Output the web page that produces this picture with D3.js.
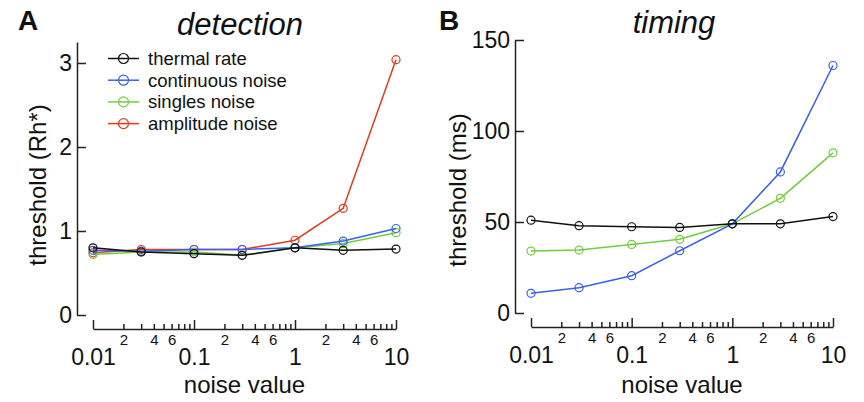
<!DOCTYPE html>
<html>
<head>
<meta charset="utf-8">
<script src="https://cdn.jsdelivr.net/npm/d3@7"></script>
<style>
  body { margin: 0; background: #fff; }
  svg { font-family: "Liberation Sans", Arial, sans-serif; }
</style>
</head>
<body>
<div class="viz"></div>
<script>
// noise values (x) shared by both panels
var noise = [0.01, 0.03, 0.1, 0.3, 1, 3, 10];

// panel A: detection threshold (Rh*)
var detThermal = [0.80, 0.75, 0.73, 0.71, 0.80, 0.77, 0.785];
var detContinuous = [0.77, 0.76, 0.78, 0.78, 0.80, 0.88, 1.03];
var detSingles = [0.72, 0.75, 0.75, 0.71, 0.80, 0.85, 0.98];
var detAmplitude = [0.74, 0.78, 0.78, 0.78, 0.89, 1.27, 3.04];

// panel B: timing threshold (ms)
var timThermal = [51, 48, 47.4, 47, 49, 49, 53];
var timContinuous = [10.8, 13.9, 20.5, 34.2, 49, 77.5, 136];
var timSingles = [34, 34.6, 37.7, 40.5, 49, 63, 88];

var seriesNames = ["thermal rate", "continuous noise", "singles noise", "amplitude noise"];
var colors = ["#111111", "#3a5ff2", "#6fcf3b", "#e6391c"];

var yTicksA = [0, 1, 2, 3];
var yTicksB = [0, 50, 100, 150];
var majorTicks = [0.01, 0.1, 1, 10];
var minorDigits = [2, 3, 4, 5, 6, 7, 8, 9];
var labelledMinor = [2, 4, 6];

var w = 864, h = 402;

var svg = d3.select(".viz")
    .append("svg")
    .attr("width", w)
    .attr("height", h);

function panel(opt) {
    var x = d3.scaleLog().domain([0.01, 10]).range(opt.xr);
    var y = d3.scaleLinear().domain(opt.yd).range(opt.yr);

    // minor tick values
    var minor = [];
    [0.01, 0.1, 1].forEach(function(dec) {
        minorDigits.forEach(function(m) { minor.push(dec * m); });
    });

    // x axis, major ticks
    var gx = svg.append("g")
        .attr("transform", "translate(0," + opt.xAxisY + ")")
        .call(d3.axisBottom(x)
            .tickValues(majorTicks)
            .tickSizeInner(-9)
            .tickSizeOuter(0)
            .tickPadding(20)
            .tickFormat(function(d) { return d3.format("~g")(d); }));
    gx.selectAll("text").attr("font-size", "23px").attr("fill", "#111").attr("font-family", null);

    // x axis, minor ticks
    var gm = svg.append("g")
        .attr("transform", "translate(0," + opt.xAxisY + ")")
        .call(d3.axisBottom(x)
            .tickValues(minor)
            .tickSizeInner(-5)
            .tickSizeOuter(0)
            .tickPadding(5)
            .tickFormat(function(d) {
                var m = Math.round(d / Math.pow(10, Math.floor(Math.log10(d) + 1e-9)));
                return labelledMinor.indexOf(m) >= 0 ? m : "";
            }));
    gm.select(".domain").remove();
    gm.selectAll("text").attr("font-size", "15px").attr("fill", "#111").attr("font-family", null);

    // y axis
    var gy = svg.append("g")
        .attr("transform", "translate(" + opt.yAxisX + ",0)")
        .call(d3.axisLeft(y)
            .tickValues(opt.yTicks)
            .tickSizeInner(-9)
            .tickSizeOuter(0)
            .tickPadding(5)
            .tickFormat(d3.format("d")));
    gy.selectAll("text").attr("font-size", "23px").attr("fill", "#111").attr("font-family", null);

    svg.selectAll(".domain, .tick line")
        .attr("stroke", "#222")
        .attr("stroke-width", 1.5);

    // axis labels
    svg.append("text")
        .attr("x", (opt.xr[0] + opt.xr[1]) / 2)
        .attr("y", 393)
        .attr("text-anchor", "middle")
        .attr("font-size", "24px")
        .attr("fill", "#111")
        .text("noise value");

    svg.append("text")
        .attr("transform", "translate(" + opt.yLabelX + "," + opt.yLabelY + ") rotate(-90)")
        .attr("text-anchor", "middle")
        .attr("dominant-baseline", "central")
        .attr("font-size", "24px")
        .attr("fill", "#111")
        .text(opt.yLabel);

    // title and panel letter
    svg.append("text")
        .attr("x", opt.titleX)
        .attr("y", opt.titleY)
        .attr("text-anchor", "middle")
        .attr("font-size", "31px")
        .attr("font-style", "italic")
        .attr("fill", "#111")
        .text(opt.title);

    svg.append("text")
        .attr("x", opt.letterX)
        .attr("y", 30)
        .attr("font-size", "28px")
        .attr("font-weight", "bold")
        .attr("fill", "#111")
        .text(opt.letter);

    // series, drawn back to front
    var line = d3.line()
        .x(function(d) { return x(d[0]); })
        .y(function(d) { return y(d[1]); });

    for (var k = opt.series.length - 1; k >= 0; k--) {
        var s = opt.series[k];
        if (!s) continue;
        var pts = noise.map(function(n, i) { return [n, s[i]]; });
        svg.append("path")
            .datum(pts)
            .attr("d", line)
            .attr("fill", "none")
            .attr("stroke", colors[k])
            .attr("stroke-width", 1.5);
        svg.append("g").selectAll("circle")
            .data(pts)
            .enter()
            .append("circle")
            .attr("cx", function(d) { return x(d[0]); })
            .attr("cy", function(d) { return y(d[1]); })
            .attr("r", 4)
            .attr("fill", "none")
            .attr("stroke", colors[k])
            .attr("stroke-width", 1.2);
    }
}

panel({
    xr: [93, 396], xAxisY: 329,
    yd: [0, 3.25], yr: [315, 42], yAxisX: 77, yTicks: yTicksA,
    yLabel: "threshold (Rh*)", yLabelX: 37, yLabelY: 185,
    title: "detection", titleX: 240, titleY: 35,
    letter: "A", letterX: 18,
    series: [detThermal, detContinuous, detSingles, detAmplitude]
});

panel({
    xr: [531, 833], xAxisY: 327,
    yd: [0, 150], yr: [313, 40], yAxisX: 515, yTicks: yTicksB,
    yLabel: "threshold (ms)", yLabelX: 457, yLabelY: 190,
    title: "timing", titleX: 674, titleY: 33,
    letter: "B", letterX: 439,
    series: [timThermal, timContinuous, timSingles, null]
});

// legend in panel A
var legend = svg.append("g").selectAll("g")
    .data(seriesNames)
    .enter()
    .append("g")
    .attr("transform", function(d, i) { return "translate(108," + (58.5 + i * 21.7) + ")"; });

legend.append("line")
    .attr("x1", 0).attr("x2", 31)
    .attr("stroke", function(d, i) { return colors[i]; })
    .attr("stroke-width", 1.5);

legend.append("circle")
    .attr("cx", 15.5).attr("r", 5)
    .attr("fill", "none")
    .attr("stroke", function(d, i) { return colors[i]; })
    .attr("stroke-width", 1.2);

legend.append("text")
    .attr("x", 40)
    .attr("dominant-baseline", "central")
    .attr("font-size", "18.5px")
    .attr("fill", "#111")
    .text(function(d) { return d; });
</script>
</body>
</html>
